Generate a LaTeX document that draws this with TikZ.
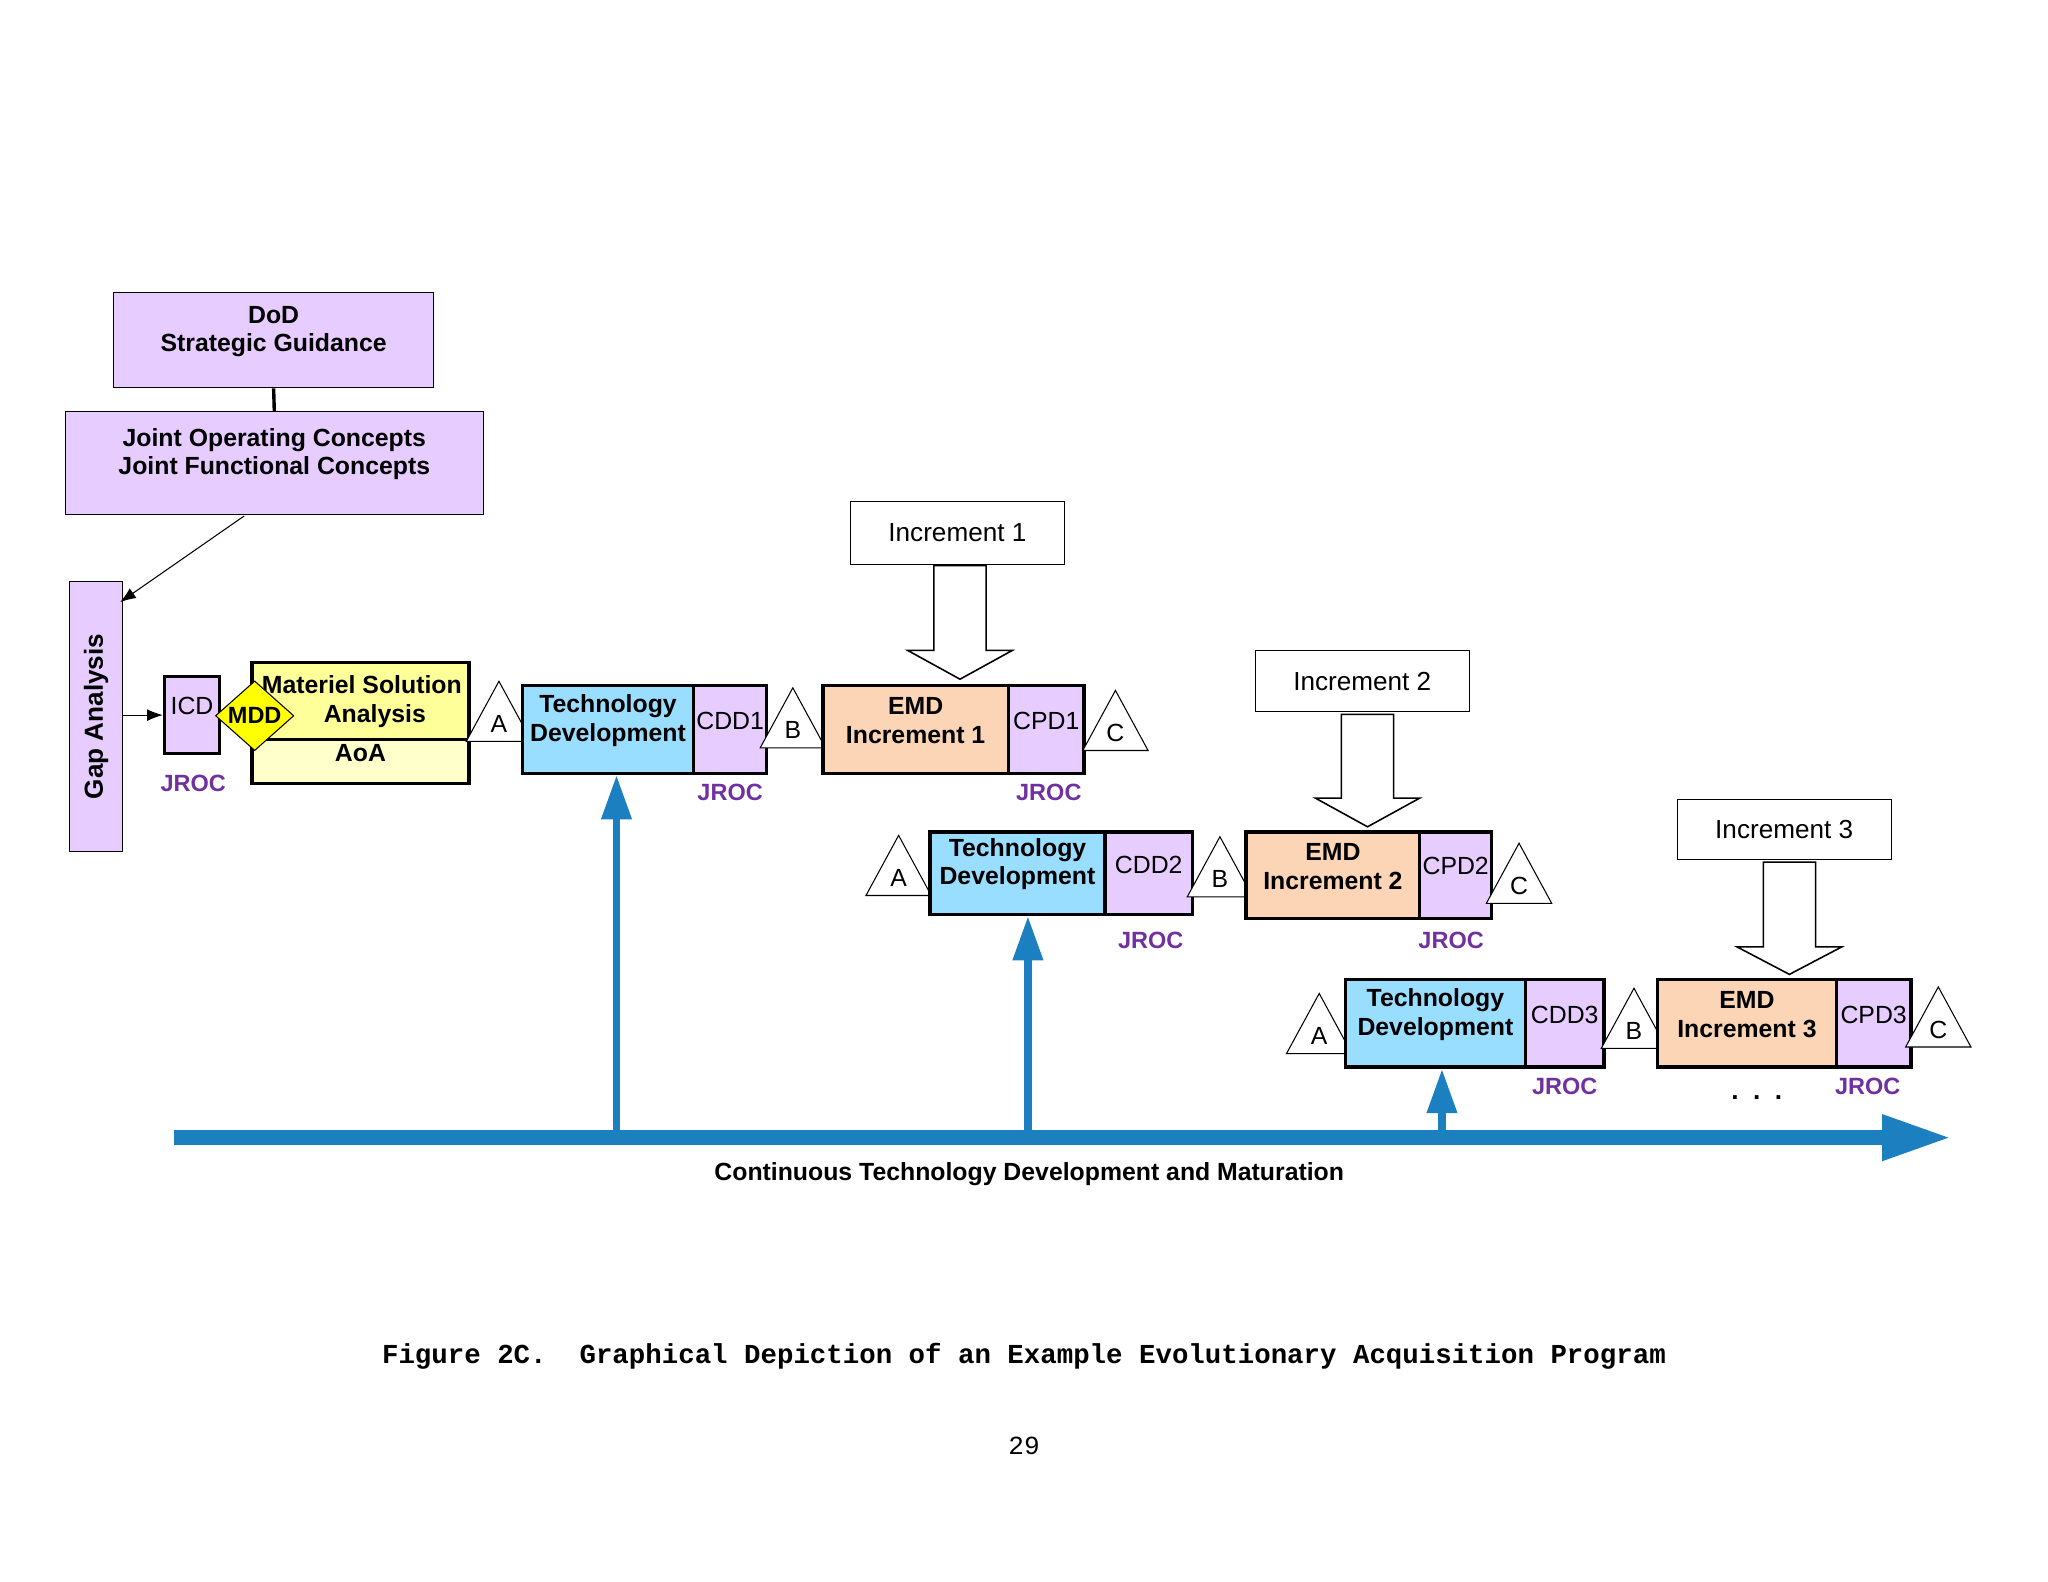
\documentclass[tikz,border=0pt]{standalone}
\usepackage{fontspec}
\setmainfont{Liberation Sans}
\newfontfamily\cour{Liberation Mono}
\usetikzlibrary{shapes.geometric,arrows.meta,fit}
\definecolor{lpurp}{HTML}{E6CCFF}
\definecolor{lblue}{HTML}{99DDFF}
\definecolor{peach}{HTML}{FBD5B5}
\definecolor{yel}{HTML}{FFFF99}
\definecolor{lyel}{HTML}{FFFFCC}
\definecolor{dyel}{HTML}{FFFF00}
\definecolor{axblue}{HTML}{1B7FC0}
\definecolor{jpurp}{HTML}{7030A0}
\tikzset{
  bx/.style={draw,inner sep=0pt,align=center,font=\bfseries\fontsize{9.5}{11}\selectfont},
  thk/.style={line width=1.3pt},
  tri/.style={draw,fill=white,isosceles triangle,shape border rotate=90,isosceles triangle stretches,minimum width=25pt,minimum height=23pt,inner sep=0pt,font=\fontsize{9.5}{11}\selectfont},
  jroc/.style={text=jpurp,font=\bfseries\fontsize{9}{11}\selectfont},
  incbox/.style={draw,inner sep=0pt,font=\fontsize{10}{12}\selectfont},
  hollow/.style={draw,fill=white,line width=0.6pt},
  upar/.style={axblue,line width=3pt,-{Triangle[length=17pt,width=11pt]}},
}
\begin{document}
\begin{tikzpicture}[x=0.5pt,y=-0.5pt]
\useasboundingbox (0,0) rectangle (1568,1211);
% top boxes
\node[bx,fill=lpurp,fit={(87,224)(332,297)}] (dod) {DoD\\Strategic Guidance};
\node[bx,fill=lpurp,fit={(50,315)(370,394)}] (joc) {Joint Operating Concepts\\Joint Functional Concepts};
\draw[thk] (dod.south) -- (joc.north);
\node[bx,fill=lpurp,fit={(53,445)(94,652)}] (gap) {};
\node[rotate=90,font=\bfseries\fontsize{10}{12}\selectfont] at (gap.center) {Gap Analysis};
\coordinate (gapin) at (92,461);
\draw[-{Latex[length=6pt]}] (187,395) coordinate (jocout) -- (gapin);
\node[bx,thk,fill=lpurp,fit={(126,518)(168,577)},font=\fontsize{9.5}{11}\selectfont] (icd) {ICD};
\draw[-{Latex[length=6pt]}] (gap.east |- icd.west) -- (icd.west);
\node[bx,thk,fill=yel,fit={(193,507)(359,566)},font=\bfseries\fontsize{9.5}{11}\selectfont] (msa) {\hspace{30pt}};
\node[font=\bfseries\fontsize{9.5}{11}\selectfont,align=center] at (277,537) {Materiel Solution\\\hspace{10pt}Analysis};
\node[bx,thk,fill=lyel,fit={(193,566)(359,600)},font=\bfseries\fontsize{9.5}{11}\selectfont] (aoa) {AoA};
\node[draw,fill=dyel,diamond,minimum width=30pt,minimum height=22pt,inner sep=0pt,font=\bfseries\fontsize{9}{11}\selectfont] (mdd) at (195,548) {MDD};
\node[jroc] (j0) at (148,600) {JROC};
% row 1
\node[tri,anchor=south] (a1) at (382,568) {A};
\node[bx,thk,fill=lblue,fit={(400,525)(531,592)}] (td1) {Technology\\Development};
\node[bx,thk,fill=lpurp,fit={(531,525)(587,592)},font=\fontsize{9.5}{11}\selectfont] (cdd1) {CDD1};
\node[tri,anchor=south] (b1) at (607,573) {B};
\node[bx,thk,fill=peach,fit={(630,525)(772,592)}] (emd1) {EMD\\Increment 1};
\node[bx,thk,fill=lpurp,fit={(772,525)(830,592)},font=\fontsize{9.5}{11}\selectfont] (cpd1) {CPD1};
\node[tri,anchor=south] (c1) at (854,575) {C};
\node[jroc] at (559,607) {JROC};
\node[jroc] at (803,607) {JROC};
\node[incbox,fit={(651,384)(815,432)}] (inc1) {};
\node[font=\fontsize{10}{12}\selectfont] at (inc1.center) {Increment 1};
\draw[hollow] (715,433) -- (755,433) -- (755,498) -- (775,498) -- (735,520) -- (695,498) -- (715,498) -- cycle;
% row 2
\node[tri,anchor=south] (a2) at (688,686) {A};
\node[bx,thk,fill=lblue,fit={(712,637)(846,700)}] (td2) {Technology\\Development};
\node[bx,thk,fill=lpurp,fit={(846,637)(913,700)},font=\fontsize{9.5}{11}\selectfont] (cdd2) {CDD2};
\node[tri,anchor=south] (b2) at (934,687) {B};
\node[bx,thk,fill=peach,fit={(954,637)(1087,703)}] (emd2) {EMD\\Increment 2};
\node[bx,thk,fill=lpurp,fit={(1087,637)(1142,703)},font=\fontsize{9.5}{11}\selectfont] (cpd2) {CPD2};
\node[tri,anchor=south] (c2) at (1163,692) {C};
\node[jroc] at (881,720) {JROC};
\node[jroc] at (1111,720) {JROC};
\node[incbox,fit={(961,498)(1125,545)}] (inc2) {};
\node[font=\fontsize{10}{12}\selectfont] at (inc2.center) {Increment 2};
\draw[hollow] (1027,547) -- (1067,547) -- (1067,611) -- (1087,611) -- (1047,633) -- (1007,611) -- (1027,611) -- cycle;
% row 3
\node[tri,anchor=south] (a3) at (1010,807) {A};
\node[bx,thk,fill=lblue,fit={(1030,750)(1168,817)}] (td3) {Technology\\Development};
\node[bx,thk,fill=lpurp,fit={(1168,750)(1228,817)},font=\fontsize{9.5}{11}\selectfont] (cdd3) {CDD3};
\node[tri,anchor=south] (b3) at (1251,803) {B};
\node[bx,thk,fill=peach,fit={(1269,750)(1406,817)}] (emd3) {EMD\\Increment 3};
\node[bx,thk,fill=lpurp,fit={(1406,750)(1463,817)},font=\fontsize{9.5}{11}\selectfont] (cpd3) {CPD3};
\node[tri,anchor=south] (c3) at (1484,802) {C};
\node[jroc] at (1198,832) {JROC};
\node[jroc] at (1430,832) {JROC};
\node[font=\bfseries\fontsize{10}{12}\selectfont] at (1345,840) {.\ \ .\ \ .};
\node[incbox,fit={(1284,612)(1448,658)}] (inc3) {};
\node[font=\fontsize{10}{12}\selectfont] at (inc3.center) {Increment 3};
\draw[hollow] (1350,660) -- (1390,660) -- (1390,725) -- (1410,725) -- (1370,746) -- (1330,725) -- (1350,725) -- cycle;
% axis
\coordinate (axs) at (133,871);
\coordinate (axe) at (1495,871);
\draw[axblue,line width=6pt,-{Triangle[length=27pt,width=16pt]}] (axs) -- (axe);
\coordinate (u1) at (472,871);
\coordinate (u2) at (787,871);
\coordinate (u3) at (1104,871);
\draw[upar] (u1) -- (td1.south -| u1);
\draw[upar] (u2) -- (td2.south -| u2);
\draw[upar] (u3) -- (td3.south -| u3);
\node[font=\bfseries\fontsize{9.5}{11}\selectfont] at (788,899) {Continuous Technology Development and Maturation};
\node[font=\cour\bfseries\fontsize{10.5}{12}\selectfont] at (784,1038) {Figure 2C.\ \ Graphical Depiction of an Example Evolutionary Acquisition Program};
\node[font=\cour\fontsize{10}{12}\selectfont] at (784,1107) {29};
\end{tikzpicture}
\end{document}
